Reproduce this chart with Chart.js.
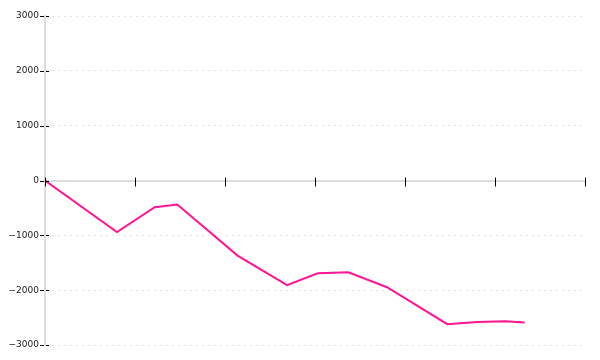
<!DOCTYPE html>
<html>
<head>
<meta charset="utf-8">
<script src="https://cdn.jsdelivr.net/npm/chart.js@4/dist/chart.umd.min.js"></script>
<style>
  html, body { margin: 0; padding: 0; background: #fff; }
  #wrap { width: 600px; height: 360px; position: relative; }
</style>
</head>
<body>
<div id="wrap"><canvas id="c"></canvas></div>
<script>
// Data
const xPositions = [0, 0.8, 1.22, 1.47, 2.14, 2.69, 3.03, 3.37, 3.8, 4.47, 4.8, 5.11, 5.33];
const seriesValues = [0, -940, -487, -438, -1369, -1908, -1692, -1673, -1947, -2620, -2580, -2565, -2590];
const yTickValues = [-3000, -2000, -1000, 0, 1000, 2000, 3000];
const xTickValues = [0, 1, 2, 3, 4, 5, 6];

const points = xPositions.map((x, i) => ({ x: x, y: seriesValues[i] }));

const tickMarks = {
  id: 'tickMarks',
  afterDraw(chart) {
    const ctx = chart.ctx;
    const xs = chart.scales.x, ys = chart.scales.y;
    const zero = ys.getPixelForValue(0);
    ctx.save();
    ctx.strokeStyle = '#000';
    ctx.lineWidth = 1;
    xTickValues.forEach(v => {
      const px = Math.round(xs.getPixelForValue(v)) + 0.5;
      ctx.beginPath();
      ctx.moveTo(px, zero - 3);
      ctx.lineTo(px, zero + 6);
      ctx.stroke();
    });
    ctx.setLineDash([4, 2]);
    const left = chart.chartArea.left;
    yTickValues.forEach(v => {
      const py = Math.round(ys.getPixelForValue(v)) + 0.5;
      ctx.beginPath();
      ctx.moveTo(left - 5, py);
      ctx.lineTo(left + 4, py);
      ctx.stroke();
    });
    ctx.restore();
  }
};

new Chart(document.getElementById('c'), {
  type: 'line',
  data: {
    datasets: [{
      data: points,
      borderColor: '#ff1493',
      borderWidth: 2,
      pointRadius: 0,
      fill: false,
      tension: 0
    }]
  },
  options: {
    responsive: true,
    maintainAspectRatio: false,
    animation: false,
    layout: { padding: { left: 0, top: 16, right: 15, bottom: 15 } },
    plugins: { legend: { display: false }, tooltip: { enabled: false } },
    scales: {
      x: {
        type: 'linear',
        min: 0, max: 6,
        position: { y: 0 },
        grid: { display: false },
        border: { display: true, color: '#dddddd', width: 2 },
        ticks: { display: false, stepSize: 1 },
        afterBuildTicks: s => { s.ticks = xTickValues.map(v => ({ value: v })); }
      },
      y: {
        min: -3000, max: 3000,
        afterFit: s => { s.width = 45; },
        afterBuildTicks: s => { s.ticks = yTickValues.map(v => ({ value: v })); },
        grid: {
          color: '#e4e4e4',
          drawTicks: false,
          lineWidth: 1
        },
        border: { display: true, color: '#dddddd', width: 2, dash: [2, 4] },
        ticks: {
          padding: 6,
          color: '#222',
          font: { family: 'DejaVu Sans', size: 9 },
          callback: v => String(v).replace('-', '\u2212')
        }
      }
    }
  },
  plugins: [tickMarks]
});
</script>
</body>
</html>
